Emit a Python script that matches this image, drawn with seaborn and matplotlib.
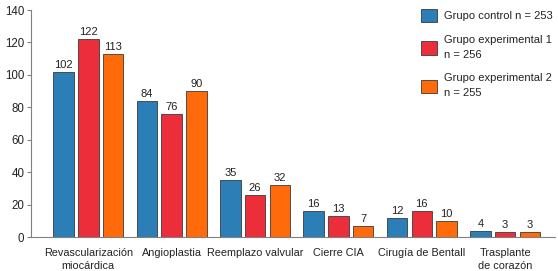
import pandas as pd
import matplotlib
matplotlib.use('Agg')
import matplotlib.pyplot as plt
import seaborn as sns

# datos
categorias = ['Revascularización\nmiocárdica', 'Angioplastia', 'Reemplazo valvular',
              'Cierre CIA', 'Cirugía de Bentall', 'Trasplante\nde corazón']
grupos = ['Grupo control n = 253', 'Grupo experimental 1\nn = 256', 'Grupo experimental 2\nn = 255']
control = [102, 84, 35, 16, 12, 4]
experimental1 = [122, 76, 26, 13, 16, 3]
experimental2 = [113, 90, 32, 7, 10, 3]
colores = ['#2B7FB6', '#EC2E3B', '#FF6A0B']

df = pd.DataFrame({
    'categoria': categorias * 3,
    'grupo': [grupos[0]] * 6 + [grupos[1]] * 6 + [grupos[2]] * 6,
    'valor': control + experimental1 + experimental2,
})

sns.set_theme(style='white')
plt.rcParams['font.family'] = ['Liberation Sans', 'DejaVu Sans']

fig = plt.figure(figsize=(5.58, 2.71), dpi=100)
ax = fig.add_axes([0.056, 0.125, 0.939, 0.838])

sns.barplot(data=df, x='categoria', y='valor', hue='grupo', palette=colores,
            width=0.89, gap=0.17, edgecolor='#3a3a3a', linewidth=0.6,
            saturation=1, ax=ax)

# etiquetas de valores
for cont in ax.containers:
    ax.bar_label(cont, padding=1.5, fontsize=8, color='#222222')

ax.set_ylim(0, 140)
ax.set_xlim(-0.684, 5.6)
ax.set_yticks(range(0, 141, 20))
ax.set_xlabel('')
ax.set_ylabel('')
ax.tick_params(axis='y', which='both', left=True, length=3, width=0.8,
               color='#808080', labelsize=8.3, labelcolor='#222222', pad=2)
ax.tick_params(axis='x', bottom=False, labelsize=7.8, labelcolor='#222222', pad=1.5)
for lbl in ax.get_xticklabels():
    lbl.set_linespacing(1.45)
sns.despine(ax=ax)
for s in ['left', 'bottom']:
    ax.spines[s].set_color('#808080')
    ax.spines[s].set_linewidth(0.8)

leg = ax.legend(loc='upper left', bbox_to_anchor=(0.735, 1.025), frameon=False,
                fontsize=8, handlelength=1.5, handleheight=1.45, labelspacing=1.2,
                handletextpad=0.6, borderaxespad=0)
for t in leg.get_texts():
    t.set_linespacing(1.6)
    t.set_color('#222222')

fig.savefig('out.png', dpi=100)
